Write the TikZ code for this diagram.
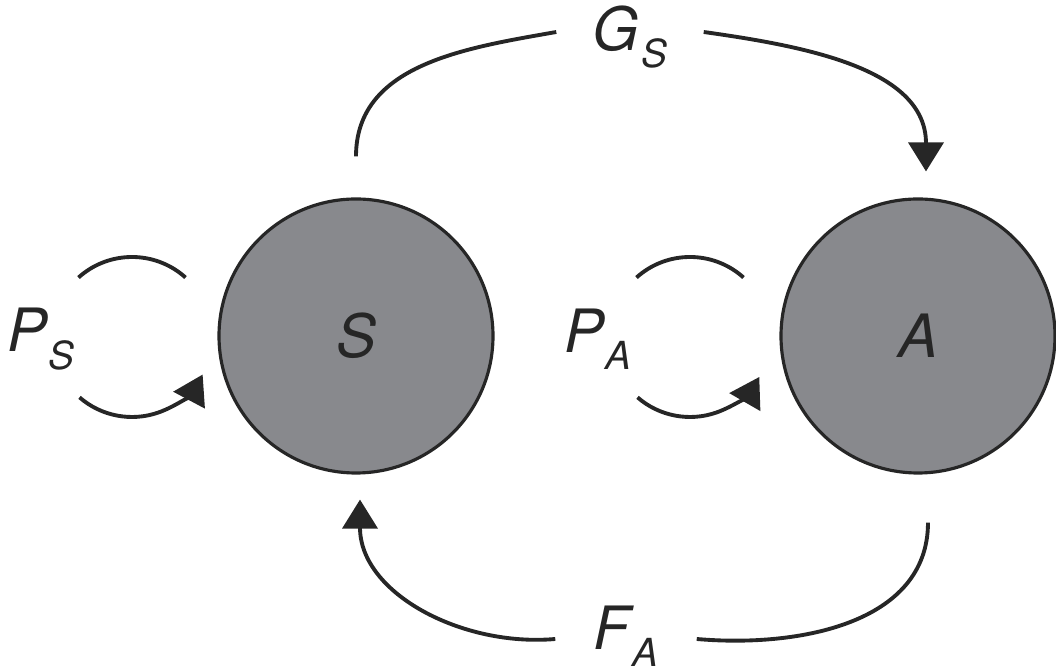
\documentclass[tikz,border=0pt]{standalone}
\usepackage{fontspec}
\setmainfont{TeX Gyre Heros}
\setsansfont{TeX Gyre Heros}
\usepackage{xcolor}
\usepackage{tikz}
\usetikzlibrary{arrows.meta,positioning,calc}
\definecolor{stock}{HTML}{88898D}
\definecolor{ink}{HTML}{262626}
\newcommand{\sublbl}[2]{\textit{#1}\kern0.5pt\raisebox{-0.55ex}{\fontsize{11}{11}\selectfont\textit{#2}}}

\begin{document}
\begin{tikzpicture}[
  font=\sffamily\itshape\fontsize{17}{20}\selectfont,
  pool/.style={circle, draw=ink, line width=0.9pt, fill=stock, minimum size=2.74cm, inner sep=0pt, text=ink},
  lbl/.style={text=ink, inner sep=0pt},
  flow/.style={draw=ink, line width=1.1pt},
  arrow/.style={flow, -{Triangle[length=2.9mm,width=3.5mm]}}
]
  \useasboundingbox (0,0) rectangle (10.56,6.70);

  \node[pool] (S) at (3.56,3.34) {S};
  \node[pool] (A) at (9.18,3.34) {A};

  \node[lbl] (PS) at (0.41,3.31) {\sublbl{P}{S}};
  \node[lbl] (PA) at (5.98,3.31) {\sublbl{P}{A}};
  \node[lbl, inner xsep=3.6mm] (GS) at (6.30,6.33) {\sublbl{G}{S}};
  \node[lbl, inner xsep=3.8mm] (FA) at (6.26,0.34) {\sublbl{F}{A}};

  \coordinate (loopS) at (1.32,3.33);
  \coordinate (loopA) at (6.90,3.33);

  \draw[flow] ([yshift=4.1mm]S.north) to[out=90,in=190] ([yshift=0.5mm]GS.west);
  \draw[arrow] ([yshift=0.5mm]GS.east) to[out=-8,in=90] ([xshift=0.8mm,yshift=2.6mm]A.north);
  \draw[flow] ([xshift=1mm,yshift=-4.8mm]A.south) to[out=-90,in=-5] ([yshift=-0.3mm]FA.east);
  \draw[arrow] ([yshift=-0.3mm]FA.west) to[out=185,in=-90] ([xshift=0.4mm,yshift=-2.5mm]S.south);

  \draw[flow] ([shift={(132:0.8)}]loopS) arc[start angle=132,end angle=48,radius=0.8];
  \draw[arrow] ([shift={(229:0.8)}]loopS) arc[start angle=229,end angle=332,radius=0.8];
  \draw[flow] ([shift={(132:0.8)}]loopA) arc[start angle=132,end angle=48,radius=0.8];
  \draw[arrow] ([shift={(229:0.8)}]loopA) arc[start angle=229,end angle=330,radius=0.8];
\end{tikzpicture}
\end{document}
